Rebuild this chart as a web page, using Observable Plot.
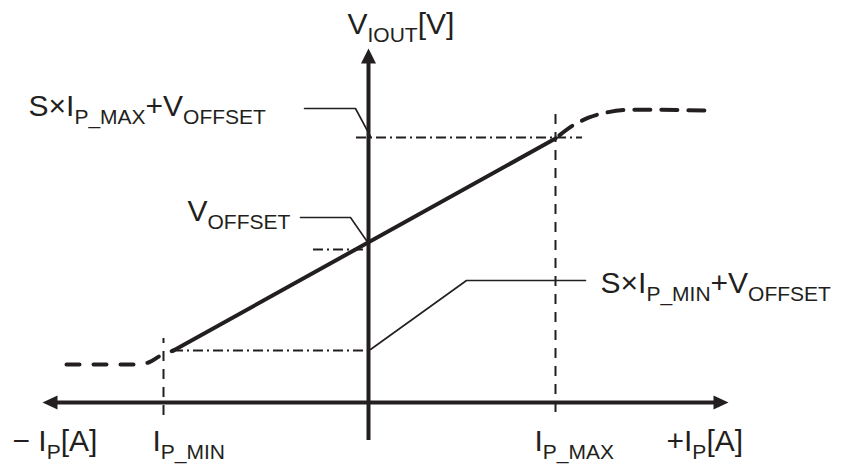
<!DOCTYPE html>
<html>
<head>
<meta charset="utf-8">
<script src="https://cdn.jsdelivr.net/npm/d3@7"></script>
<script src="https://cdn.jsdelivr.net/npm/@observablehq/plot@0.6"></script>
<style>
  html, body { margin: 0; padding: 0; background: #ffffff; overflow: hidden; }
  #chart svg { display: block; }
</style>
</head>
<body>
<div id="chart"></div>
<script>
// ---- data (schematic units: current in A, voltage in V) ----
const IP_MIN = -5.125;
const IP_MAX = 4.675;

// linear region (solid)
const linearI = [-4.875, 4.675];
const linearV = [1.3, 6.6];

// saturation tails (dashed)
const lowTailI = [-7.55, -5.85, -5.5, -5.2, -4.875];
const lowTailV = [0.95, 0.95, 1.0, 1.17, 1.3];
const highTailI = [4.675, 5.1, 5.5, 6.0, 6.6, 8.475];
const highTailV = [6.6, 6.92, 7.12, 7.26, 7.32, 7.3];

// vertical guides at I_P_MIN / I_P_MAX
const guideI = [IP_MIN, IP_MAX];
const guideTop = [1.6, 7.35];
const guideBottom = [-0.325, -0.25];

// horizontal reference levels (dash-dot)
const levelV = [6.625, 3.825, 1.3];
const levelFrom = [-0.3, -1.375, -4.875];
const levelTo = [5.35, 0.125, 0];

// axes extents
const axisI = [-8.15, 9.0];
const axisV = [-0.95, 8.85];

// leader lines (label -> value on the V axis)
const leaderTop = [[-1.6, 7.35], [-0.325, 7.35], [0.05, 6.65]];
const leaderMid = [[-1.7, 4.625], [-0.45, 4.625], [0, 3.975]];
const leaderLow = [[5.425, 3.05], [2.45, 3.05], [0.05, 1.325]];

// labels (markup: _{...} = subscript)
const labelText = [
  "V_{IOUT}[V]",
  "S×I_{P_MAX}+V_{OFFSET}",
  "V_{OFFSET}",
  "S×I_{P_MIN}+V_{OFFSET}",
  "− I_{P}[A]",
  "I_{P_MIN}",
  "I_{P_MAX}",
  "+I_{P}[A]"
];
const labelI = [-0.525, -8.5, -4.525, 5.8, -8.9, -5.4, 4.15, 7.45];
const labelV = [9.225, 7.175, 4.55, 2.75, -1.2, -1.2, -1.2, -1.2];

// ---- build ----
const INK = "#231f20";
const FONT = "'Liberation Sans', Arial, Helvetica, sans-serif";
const zip = (a, b) => a.map((v, i) => ({x: v, y: b[i]}));
const pts = (arr) => arr.map(([x, y]) => ({x, y}));

const arrowUp = {draw(c) { c.moveTo(0, 0); c.lineTo(-7.5, 15); c.lineTo(7.5, 15); c.closePath(); }};
const arrowLeft = {draw(c) { c.moveTo(0, 0); c.lineTo(15, -7); c.lineTo(15, 7); c.closePath(); }};
const arrowRight = {draw(c) { c.moveTo(0, 0); c.lineTo(-15, -7); c.lineTo(-15, 7); c.closePath(); }};

const guides = guideI.map((x, i) => ({x, y1: guideBottom[i], y2: guideTop[i]}));
const levels = levelV.map((y, i) => ({y, x1: levelFrom[i], x2: levelTo[i]}));
const labels = labelText.map((t, i) => ({t, x: labelI[i], y: labelV[i]}));

const chart = Plot.plot({
  width: 842,
  height: 466,
  marginTop: 0, marginRight: 0, marginBottom: 0, marginLeft: 0,
  x: {domain: [-9.2, 11.85], axis: null},
  y: {domain: [-1.6, 10.05], axis: null},
  style: {background: "#ffffff", fontFamily: FONT, color: INK},
  marks: [
    // dashed vertical guides
    Plot.ruleX(guides, {x: "x", y1: "y1", y2: "y2", stroke: INK, strokeWidth: 2, strokeDasharray: "10,8"}),
    // dash-dot levels
    Plot.ruleY(levels, {y: "y", x1: "x1", x2: "x2", stroke: INK, strokeWidth: 1.8, strokeDasharray: "10,4,2,4"}),
    // axes
    Plot.ruleY([0], {x1: axisI[0] + 0.2, x2: axisI[1] - 0.2, stroke: INK, strokeWidth: 4}),
    Plot.ruleX([0], {y1: axisV[0], y2: axisV[1] - 0.2, stroke: INK, strokeWidth: 4}),
    Plot.dot([{x: 0, y: axisV[1]}], {x: "x", y: "y", symbol: arrowUp, fill: INK, stroke: "none"}),
    Plot.dot([{x: axisI[0], y: 0}], {x: "x", y: "y", symbol: arrowLeft, fill: INK, stroke: "none"}),
    Plot.dot([{x: axisI[1], y: 0}], {x: "x", y: "y", symbol: arrowRight, fill: INK, stroke: "none"}),
    // leaders
    Plot.line(pts(leaderTop), {x: "x", y: "y", stroke: INK, strokeWidth: 1.6}),
    Plot.line(pts(leaderMid), {x: "x", y: "y", stroke: INK, strokeWidth: 1.6}),
    Plot.line(pts(leaderLow), {x: "x", y: "y", stroke: INK, strokeWidth: 1.6}),
    // transfer characteristic
    Plot.line(zip(lowTailI, lowTailV), {x: "x", y: "y", curve: "monotone-x", stroke: INK, strokeWidth: 4, strokeDasharray: "13,14"}),
    Plot.line(zip(highTailI, highTailV), {x: "x", y: "y", curve: "monotone-x", stroke: INK, strokeWidth: 4, strokeDasharray: "16,11", strokeDashoffset: 22}),
    Plot.line(zip(linearI, linearV), {x: "x", y: "y", stroke: INK, strokeWidth: 4}),
    // labels
    Plot.text(labels, {x: "x", y: "y", text: "t", textAnchor: "start", lineAnchor: "bottom", fontSize: 30, fill: INK, fontFamily: FONT})
  ]
});

// convert _{...} markup to real subscripts
const SUB_SIZE = 21, SUB_DY = 8.5;
d3.select(chart).selectAll("text").each(function () {
  const s = this.textContent;
  if (!s.includes("_{")) return;
  const parts = s.split(/(_\{[^}]*\})/).filter(p => p.length);
  this.textContent = "";
  let down = false;
  for (const p of parts) {
    const sub = p.startsWith("_{");
    const ts = d3.select(this).append("tspan").text(sub ? p.slice(2, -1) : p);
    if (sub) {
      ts.attr("font-size", SUB_SIZE);
      if (!down) { ts.attr("dy", SUB_DY); down = true; }
    } else if (down) {
      ts.attr("dy", -SUB_DY); down = false;
    }
  }
});

document.getElementById("chart").appendChild(chart);
</script>
</body>
</html>
